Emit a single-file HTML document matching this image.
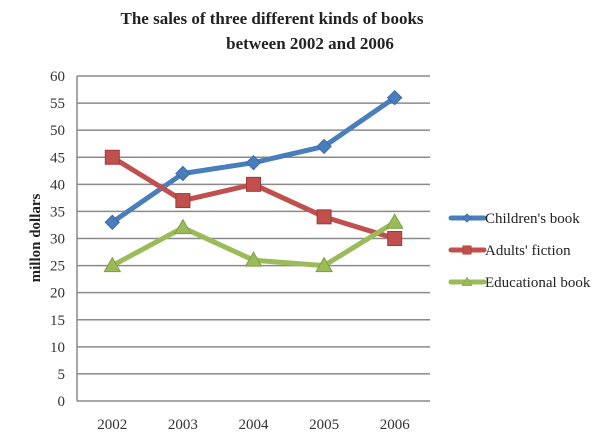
<!DOCTYPE html>
<html><head><meta charset="utf-8"><style>
body{margin:0;background:#fff;width:610px;height:435px;overflow:hidden}
svg{font-family:"Liberation Serif",serif}
</style></head><body>
<svg id="chart" width="610" height="435">
<text x="272" y="24" text-anchor="middle" font-size="17" font-weight="bold" fill="#222">The sales of three different kinds of books</text>
<text x="310" y="49" text-anchor="middle" font-size="17" font-weight="bold" fill="#222">between 2002 and 2006</text>
<text transform="translate(40,238) rotate(-90)" text-anchor="middle" font-size="15" font-weight="bold" fill="#222">millon dollars</text>
<g id="grid"></g><g id="series"></g><g id="legend"></g>
</svg>
<script>
const categories=["2002","2003","2004","2005","2006"];
const children=[33,42,44,47,56];
const adults=[45,37,40,34,30];
const educational=[25,32,26,25,33];
const yTicks=[0,5,10,15,20,25,30,35,40,45,50,55,60];
const names=["Children's book","Adults' fiction","Educational book"];
const NS="http://www.w3.org/2000/svg";
const L=77,R=430,T=76,B=401;
const w=(R-L)/categories.length;
const x=i=>L+(i+0.5)*w;
const y=v=>B-(v/60)*(B-T);
function mk(tag,attrs,parent){const e=document.createElementNS(NS,tag);for(const k in attrs)e.setAttribute(k,attrs[k]);parent.appendChild(e);return e;}
const grid=document.getElementById('grid');
yTicks.forEach(t=>{
 const ln=mk('line',{x1:L,x2:R,y1:y(t),y2:y(t),stroke:'#8a8a8a','stroke-width':1.5},grid);
 
 
 const tx=mk('text',{x:65,y:y(t)+5,'text-anchor':'end','font-size':15,fill:'#333'},grid);
 tx.textContent=t;
 
 
});
const ax=mk('line',{x1:L,x2:L,y1:T,y2:B,stroke:'#8a8a8a','stroke-width':1.5},grid);


categories.forEach((c,i)=>{
 const tx=mk('text',{x:x(i),y:429,'text-anchor':'middle','font-size':15,fill:'#333'},grid);
 tx.textContent=c;
 
 
});
function marker(kind,cx,cy,col,edge,g){
 let e;
 if(kind==='d')e=mk('polygon',{points:`${cx},${cy-7} ${cx+7},${cy} ${cx},${cy+7} ${cx-7},${cy}`,fill:col,stroke:edge},g);
 else if(kind==='s')e=mk('rect',{x:cx-7,y:cy-7,width:14,height:14,fill:col,stroke:edge},g);
 else e=mk('polygon',{points:`${cx},${cy-8} ${cx+8},${cy+6} ${cx-8},${cy+6}`,fill:col,stroke:edge},g);
 return e;
}
const S=document.getElementById('series');
const series=[[children,'#4a7ebb','#3a6aa8','d','children'],[adults,'#c0504d','#a03a38','s','adults'],[educational,'#9bbb59','#7f9c44','t','educational']];
series.forEach(([vals,col,edge,kind,nm])=>{
 const g=mk('g',{},S);
 
 
 const pl=mk('polyline',{points:vals.map((v,i)=>x(i)+','+y(v)).join(' '),fill:'none',stroke:col,'stroke-width':5,'stroke-linejoin':'round'},g);
 
 
 vals.forEach((v,i)=>{
  const m=marker(kind,x(i),y(v),col,edge,g);
  
  
 });
});
const Lg=document.getElementById('legend');
series.forEach(([vals,col,edge,kind,nm],k)=>{
 const ly=218+k*32;
 const g=mk('g',{},Lg);
 
 
 mk('line',{x1:451,x2:484,y1:ly,y2:ly,stroke:col,'stroke-width':5,'stroke-linecap':'round'},g);
 const m=marker(kind,467,ly,col,edge,g);
 m.setAttribute('transform',`translate(${467*0.4},${ly*0.4}) scale(0.6)`);
 const tx=mk('text',{x:485,y:ly+5,'font-size':15,fill:'#222'},g);
 tx.textContent=names[k];
});
</script>
</body></html>
